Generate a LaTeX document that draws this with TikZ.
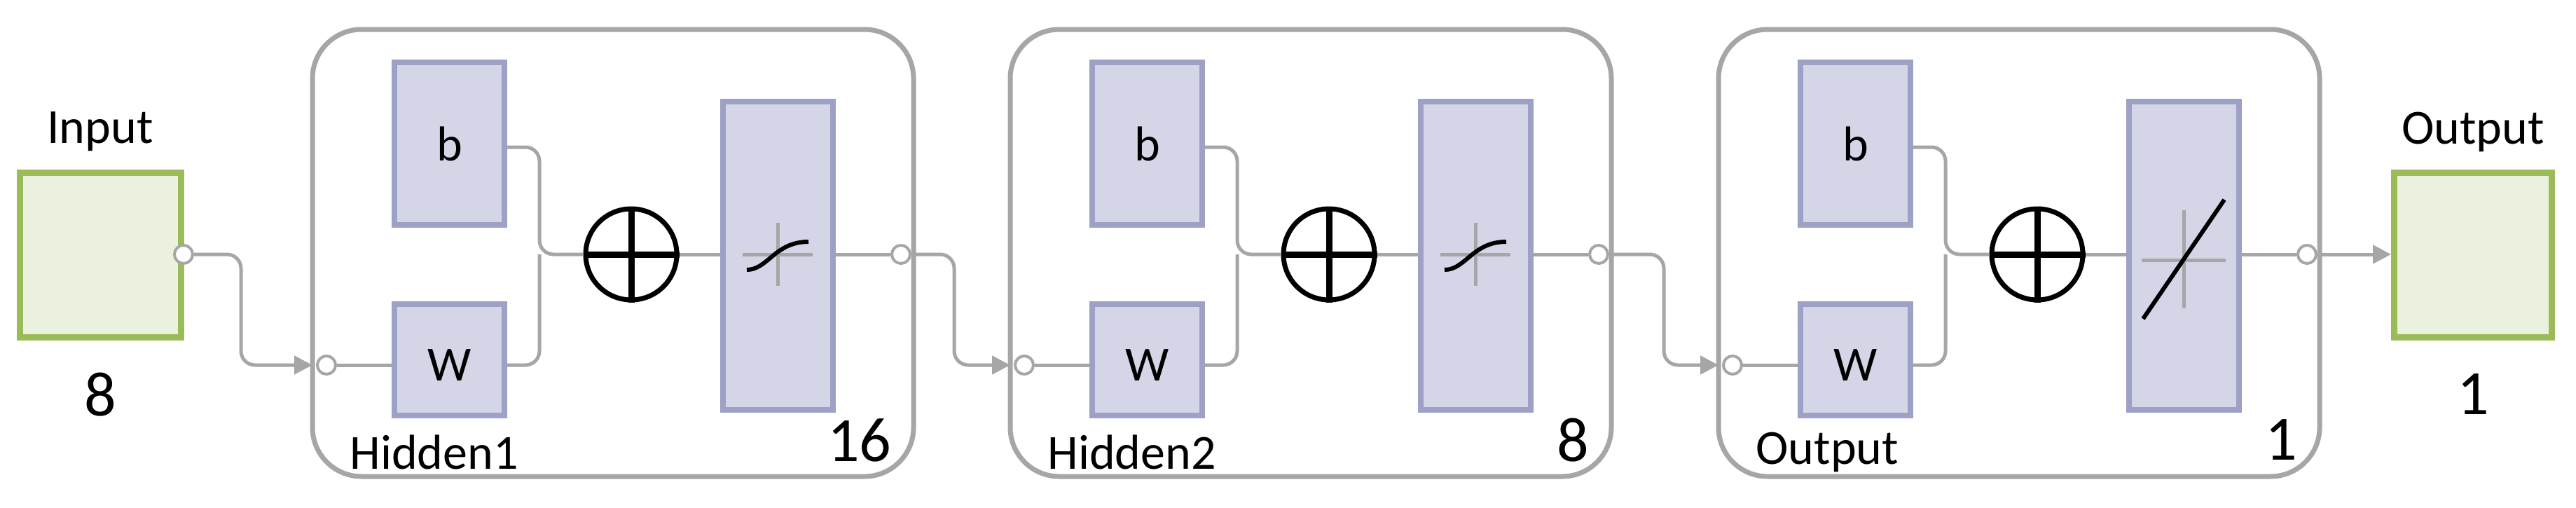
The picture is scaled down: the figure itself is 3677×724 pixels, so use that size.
\documentclass[tikz,border=0pt]{standalone}
\usepackage{fontspec}
\setmainfont{Carlito}
\usetikzlibrary{arrows.meta}
\definecolor{bfill}{HTML}{D4D6E8}
\definecolor{bdraw}{HTML}{9DA1C6}
\definecolor{gfill}{HTML}{EAF1DE}
\definecolor{gdraw}{HTML}{9BBB59}
\definecolor{lgray}{HTML}{A6A6A6}
\begin{document}
\begin{tikzpicture}[x=1pt,y=-1pt,
  cont/.style={draw=lgray,line width=7pt,rounded corners=70pt},
  blk/.style={draw=bdraw,fill=bfill,line width=8pt},
  io/.style={draw=gdraw,fill=gfill,line width=9pt},
  wire/.style={draw=lgray,line width=5pt,rounded corners=20pt},
  port/.style={circle,draw=lgray,fill=white,line width=4pt,minimum size=26pt,inner sep=0pt},
  sum/.style={circle,draw=black,line width=7pt,minimum size=130pt,inner sep=0pt},
  lab/.style={font=\fontsize{70}{80}\selectfont},
  num/.style={font=\fontsize{90}{100}\selectfont},
  arr/.style={-{Triangle[length=26pt,width=26pt]}}]
\useasboundingbox (0,0) rectangle (3677,724);
% input
\draw[io] (28,246) rectangle (258,481);
\node[lab] (inlab) at (143,188) {Input};
\node[num] (innum) at (143,563) {8};
\node[port] (pin) at (262,363) {};
% layers
\foreach \n/\cx/\lab/\nm/\cnt in {1/446/Hidden1/16/sig,2/1442/Hidden2/8/sig,3/2453/Output/1/lin}{
  \draw[cont] (\cx,42) rectangle ++(858,638);
  \coordinate (c\n) at (\cx,521);
  \node[port] (pc\n) at (\cx+20,521) {};
  \draw[blk] (\cx+117,89) rectangle ++(157,232);
  \node[lab] (b\n) at (\cx+196,205) {b};
  \draw[blk] (\cx+117,434) rectangle ++(157,159);
  \node[lab] (w\n) at (\cx+196,521) {W};
  \coordinate (bo\n) at (\cx+278,210);
  \coordinate (wo\n) at (\cx+278,521);
  \coordinate (wi\n) at (\cx+113,521);
  \node[sum] (s\n) at (\cx+455,363) {};
  \draw[line width=9pt] (s\n.north) -- (s\n.south) (s\n.west) -- (s\n.east);
  \draw[blk] (\cx+586,145) rectangle ++(157,440);
  \coordinate (ti\n) at (\cx+582,363);
  \coordinate (to\n) at (\cx+747,363);
  \node[port] (po\n) at (\cx+840,363) {};
  \node[lab,anchor=west] (hl\n) at (\cx+50,645) {\lab};
  \node[num,anchor=east] (nl\n) at (\cx+830,628) {\nm};
  \draw[wire] (bo\n) -| (\cx+324,363) -- (s\n.west);
  \draw[wire] (wo\n) -| (\cx+324,363);
  \draw[wire] (pc\n) -- (wi\n);
  \draw[wire] (s\n.east) -- (ti\n);
  \draw[wire] (to\n) -- (po\n);
  \ifnum\n<3
    \draw[lgray,line width=5pt] (\cx+614,363) -- (\cx+714,363) (\cx+664,318) -- (\cx+664,408);
    \draw[black,line width=6pt] (\cx+620,385) .. controls (\cx+650,385) and (\cx+660,345) .. (\cx+708,345);
  \else
    \draw[lgray,line width=5pt] (\cx+604,371) -- (\cx+724,371) (\cx+664,300) -- (\cx+664,440);
    \draw[black,line width=6pt] (\cx+606,455) -- (\cx+722,285);
  \fi
}
% output
\draw[io] (3417,246) rectangle (3642,481);
\coordinate (oin) at (3413,363);
\node[lab] (outlab) at (3530,188) {Output};
\node[num] (outnum) at (3530,563) {1};
% connections
\draw[wire,arr] (pin) -| (344,521) -- (c1);
\draw[wire,arr] (po1) -| (1362,521) -- (c2);
\draw[wire,arr] (po2) -| (2375,521) -- (c3);
\draw[wire,arr] (po3) -- (oin);
\end{tikzpicture}
\end{document}
